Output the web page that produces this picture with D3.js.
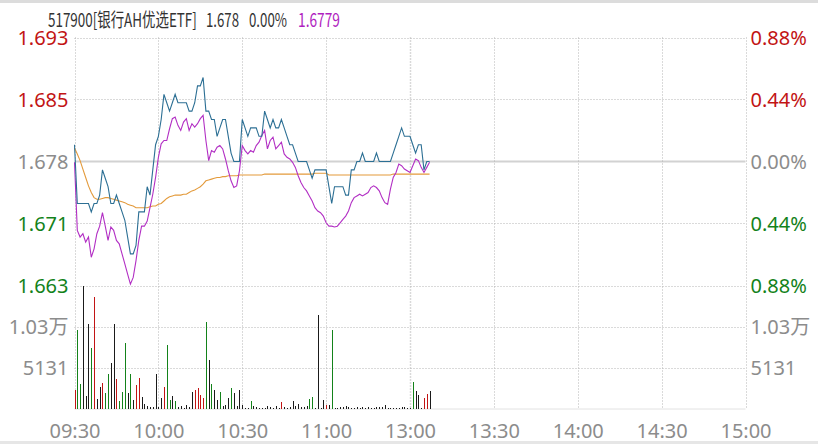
<!DOCTYPE html>
<html>
<head>
<meta charset="utf-8">
<script src="https://cdn.jsdelivr.net/npm/d3@7/dist/d3.min.js"></script>
<style>
html,body{margin:0;padding:0;background:#fff;}
svg{display:block;}
</style>
</head>
<body>
<svg id="chart" width="818" height="444"></svg>
<script>
// ---------------- data ----------------
const code = "517900[银行AH优选ETF]";
const lastPrice = "1.678";
const lastPct = "0.00%";
const lastIopv = "1.6779";
const preClose = 1.678;
const pctRange = 0.0088;

const timeLabels = ["09:30","10:00","10:30","11:00","13:00","13:30","14:00","14:30","15:00"];
const timeTickIdx = [0,30,60,90,120,150,180,210,240];
const priceLabels = ["1.693","1.685","1.678","1.671","1.663"];
const pctLabels = ["0.88%","0.44%","0.00%","0.44%","0.88%"];
const pctLevels = [0.0088,0.0044,0,-0.0044,-0.0088];
const volTickValues = [10262,5131];
const volTickLabels = ["1.03万","5131"];
const volMax = 15393;

// price (per minute)
const price = [
1.680,1.673,1.673,1.673,1.673,1.673,1.672,1.673,1.673,1.674,
1.677,1.676,1.675,1.673,1.673,1.674,1.673,1.672,1.671,1.669,
1.667,1.667,1.668,1.672,1.672,1.672,1.675,1.674,1.677,1.680,
1.681,1.683,1.686,1.685,1.684,1.685,1.686,1.685,1.685,1.685,
1.685,1.684,1.684,1.685,1.687,1.687,1.688,1.684,1.684,1.683,
1.683,1.681,1.682,1.683,1.683,1.681,1.679,1.678,1.678,1.678,
1.683,1.682,1.681,1.682,1.682,1.682,1.681,1.681,1.684,1.683,
1.682,1.683,1.682,1.682,1.683,1.682,1.681,1.680,1.680,1.679,
1.678,1.678,1.678,1.678,1.677,1.676,1.677,1.677,1.677,1.677,
1.677,1.675,1.673,1.675,1.675,1.675,1.675,1.674,1.674,1.677,
1.677,1.678,1.678,1.679,1.678,1.678,1.678,1.678,1.679,1.678,
1.678,1.678,1.678,1.678,1.679,1.680,1.681,1.682,1.681,1.681,
1.681,1.680,1.679,1.680,1.680,1.677,1.678,1.678
];
// IOPV (per minute)
const iopv = [
1.6779,1.6698,1.6690,1.6694,1.6684,1.6690,1.6666,1.6676,1.6694,1.6703,
1.6719,1.6703,1.6686,1.6702,1.6698,1.6686,1.6682,1.6670,1.6658,1.6646,
1.6634,1.6642,1.6662,1.6686,1.6703,1.6703,1.6709,1.6725,1.6741,1.6761,
1.6785,1.6801,1.6805,1.6805,1.6819,1.6831,1.6833,1.6823,1.6817,1.6827,
1.6831,1.6817,1.6825,1.6821,1.6825,1.6831,1.6835,1.6805,1.6781,1.6793,
1.6791,1.6797,1.6799,1.6795,1.6783,1.6769,1.6757,1.6749,1.6751,1.6769,
1.6799,1.6793,1.6789,1.6793,1.6791,1.6799,1.6803,1.6811,1.6817,1.6795,
1.6805,1.6809,1.6795,1.6799,1.6803,1.6789,1.6785,1.6783,1.6779,1.6773,
1.6763,1.6755,1.6749,1.6745,1.6739,1.6733,1.6725,1.6721,1.6719,1.6715,
1.6707,1.6703,1.6703,1.6702,1.6703,1.6707,1.6711,1.6715,1.6721,1.6731,
1.6737,1.6739,1.6741,1.6739,1.6741,1.6743,1.6749,1.6751,1.6749,1.6745,
1.6737,1.6731,1.6729,1.6747,1.6761,1.6767,1.6777,1.6775,1.6771,1.6769,
1.6767,1.6775,1.6783,1.6781,1.6773,1.6767,1.6773,1.6779
];
// average price (per minute)
const avgPrice = [
1.6796,1.6789,1.6781,1.6771,1.6761,1.6751,1.6743,1.6737,1.6735,1.6735,
1.6736,1.6737,1.6737,1.6736,1.6735,1.6734,1.6733,1.6732,1.6731,1.6729,
1.6728,1.6727,1.6725,1.6725,1.6725,1.6725,1.6725,1.6726,1.6727,1.6727,
1.6729,1.6730,1.6733,1.6736,1.6738,1.6739,1.6740,1.6740,1.6740,1.6741,
1.6741,1.6743,1.6745,1.6746,1.6748,1.6750,1.6753,1.6757,1.6758,1.6759,
1.6760,1.6761,1.6761,1.6762,1.6762,1.6763,1.6763,1.6763,1.6763,1.6764,
1.6764,1.6764,1.6764,1.6764,1.6764,1.6764,1.6764,1.6764,1.6765,1.6765,
1.6765,1.6765,1.6765,1.6765,1.6765,1.6765,1.6765,1.6765,1.6765,1.6765,
1.6765,1.6765,1.6765,1.6765,1.6765,1.6765,1.6766,1.6766,1.6766,1.6766,
1.6766,1.6764,1.6764,1.6764,1.6764,1.6764,1.6764,1.6764,1.6764,1.6764,
1.6764,1.6764,1.6764,1.6764,1.6764,1.6764,1.6764,1.6764,1.6764,1.6764,
1.6764,1.6764,1.6764,1.6764,1.6765,1.6765,1.6765,1.6765,1.6765,1.6765,
1.6765,1.6765,1.6765,1.6765,1.6765,1.6765,1.6765,1.6765
];
// volume (per minute)
const volume = [
2352,9860,3106,15300,1564,10612,7609,13949,1230,2690,
3232,1939,4357,5734,10612,3732,938,2064,8236,1981,
4357,1021,2981,3816,1439,605,313,188,188,4357,
188,1314,2690,7901,1021,1564,938,188,313,80,
480,188,2064,2273,2565,1700,1314,10821,6109,3106,
2273,1021,2064,271,396,1356,2606,1981,271,2352,
396,80,40,980,271,188,80,80,80,313,
146,80,271,104,813,188,80,188,896,271,
605,188,188,271,1230,1439,40,11655,80,1021,
480,438,9820,30,100,146,229,313,229,100,
30,229,100,146,30,146,30,100,229,146,
229,396,100,60,30,30,30,146,229,60,
100,3357,2189,1689,30,1272,1814,2231
];
// tick direction of each minute: 1 up, -1 down, 0 flat
const direction = [
1,-1,-1,0,0,0,-1,1,0,0,
1,-1,-1,0,0,1,-1,-1,-1,0,
-1,0,1,1,0,0,0,0,0,0,
0,0,1,-1,-1,0,-1,0,0,0,
0,0,0,1,1,1,1,-1,0,-1,
0,0,-1,0,0,0,-1,0,0,0,
0,0,0,-1,0,0,0,0,0,0,
0,0,0,0,1,0,0,0,0,0,
0,0,0,0,-1,-1,0,0,0,0,
1,0,-1,0,0,0,0,0,0,0,
0,0,0,0,0,0,0,0,0,0,
0,0,0,0,0,0,0,0,0,0,
0,-1,0,0,0,1,1,0
];

// ---------------- drawing ----------------
const svg = d3.select("#chart");
const W = 818, H = 444;
const L = 74.5, R = 745.5, T = 37.5, PB = 285.5, VB = 408.5;

const x = d3.scaleLinear().domain([0,240]).range([L,R]);
const y = d3.scaleLinear().domain([preClose*(1-pctRange), preClose*(1+pctRange)]).range([PB,T]);
const yv = d3.scaleLinear().domain([0,volMax]).range([VB,PB]);

const RED = "#c21414", GREEN = "#13821a", GRAY = "#8c8c8c";
const FONT = "'Noto Sans','Noto Sans CJK SC',sans-serif";

// frame bars
svg.append("rect").attr("x",0).attr("y",0).attr("width",W).attr("height",3).attr("fill","#dcdcdc");
svg.append("rect").attr("x",0).attr("y",441).attr("width",W).attr("height",3).attr("fill","#e6e6e6");

const grid = svg.append("g");
function dline(x1,y1,x2,y2,w){
  return grid.append("line").attr("x1",x1).attr("y1",y1).attr("x2",x2).attr("y2",y2)
    .attr("stroke","#b4b4b4").attr("stroke-width",w||1).attr("stroke-dasharray","1,2");
}
// horizontal price grid
pctLevels.forEach(p=>{
  const yy = Math.round(y(preClose*(1+p)))+0.5;
  if(p===0){
    grid.append("line").attr("x1",L).attr("x2",R).attr("y1",yy).attr("y2",yy)
      .attr("stroke","#d2d2d2").attr("stroke-width",2);
  } else dline(L,yy,R,yy);
});
volTickValues.forEach(v=>{
  const yy = Math.round(yv(v))+0.5;
  dline(L,yy,R,yy);
});
grid.append("line").attr("x1",L).attr("x2",R).attr("y1",VB+0.5).attr("y2",VB+0.5)
  .attr("stroke","#e2e2e2").attr("stroke-width",1);
// vertical grid
timeTickIdx.forEach(t=>{
  const xx = Math.round(x(t))+0.5;
  dline(xx,T,xx,VB, t===120?1.5:1);
});

// volume bars
const volG = svg.append("g").attr("shape-rendering","crispEdges");
volume.forEach((v,i)=>{
  const xx = Math.round(x(i));
  const c = direction[i]>0?RED:(direction[i]<0?GREEN:"#1a1a1a");
  volG.append("rect").attr("x",xx).attr("y",yv(v)).attr("width",1)
    .attr("height",Math.max(0.6,VB-yv(v))).attr("fill",c);
});

// lines
const lineGen = d3.line().x((d,i)=>x(i)).y(d=>y(d));
svg.append("path").datum(avgPrice).attr("d",lineGen).attr("fill","none")
  .attr("stroke","#e39a3b").attr("stroke-width",1.1);
svg.append("path").datum(iopv).attr("d",lineGen).attr("fill","none")
  .attr("stroke","#b22fc4").attr("stroke-width",1.1);
svg.append("path").datum(price).attr("d",lineGen).attr("fill","none")
  .attr("stroke","#2c6f94").attr("stroke-width",1.1);

// axis labels
const leftColors = [RED,RED,GRAY,GREEN,GREEN];
const lab = svg.append("g").attr("font-family",FONT).attr("font-size",20);
pctLevels.forEach((p,k)=>{
  const yy = y(preClose*(1+p))+7.2;
  lab.append("text").attr("x",68.5).attr("y",yy).attr("text-anchor","end")
    .attr("fill",leftColors[k]).text(priceLabels[k]);
  lab.append("text").attr("x",750.5).attr("y",yy).attr("text-anchor","start")
    .attr("fill",leftColors[k]).text(pctLabels[k]);
});
volTickValues.forEach((v,k)=>{
  const yy = yv(v)+7.2;
  lab.append("text").attr("x",68.5).attr("y",yy).attr("text-anchor","end")
    .attr("fill",GRAY).text(volTickLabels[k]);
  lab.append("text").attr("x",750.5).attr("y",yy).attr("text-anchor","start")
    .attr("fill",GRAY).text(volTickLabels[k]);
});
timeTickIdx.forEach((t,k)=>{
  lab.append("text").attr("x",x(t)+0.5).attr("y",437.5).attr("text-anchor","middle")
    .attr("fill",GRAY).text(timeLabels[k]);
});

// header (narrow font emulated with horizontal scaling)
const hdr = svg.append("g").attr("font-family","'Noto Sans CJK SC','Noto Sans',sans-serif").attr("font-size",19);
const hItems = [
  {t:code, x:48, w:149, c:"#333"},
  {t:lastPrice, x:206, w:33, c:"#333"},
  {t:lastPct, x:249, w:38, c:"#333"},
  {t:lastIopv, x:298, w:42, c:"#b01fc0"}
];
hItems.forEach(h=>{
  const t = hdr.append("text").attr("x",0).attr("y",0).attr("fill",h.c).text(h.t);
  const len = t.node().getComputedTextLength() || h.w;
  t.attr("transform",`translate(${h.x},27) scale(${h.w/len},1)`);
});
</script>
</body>
</html>
